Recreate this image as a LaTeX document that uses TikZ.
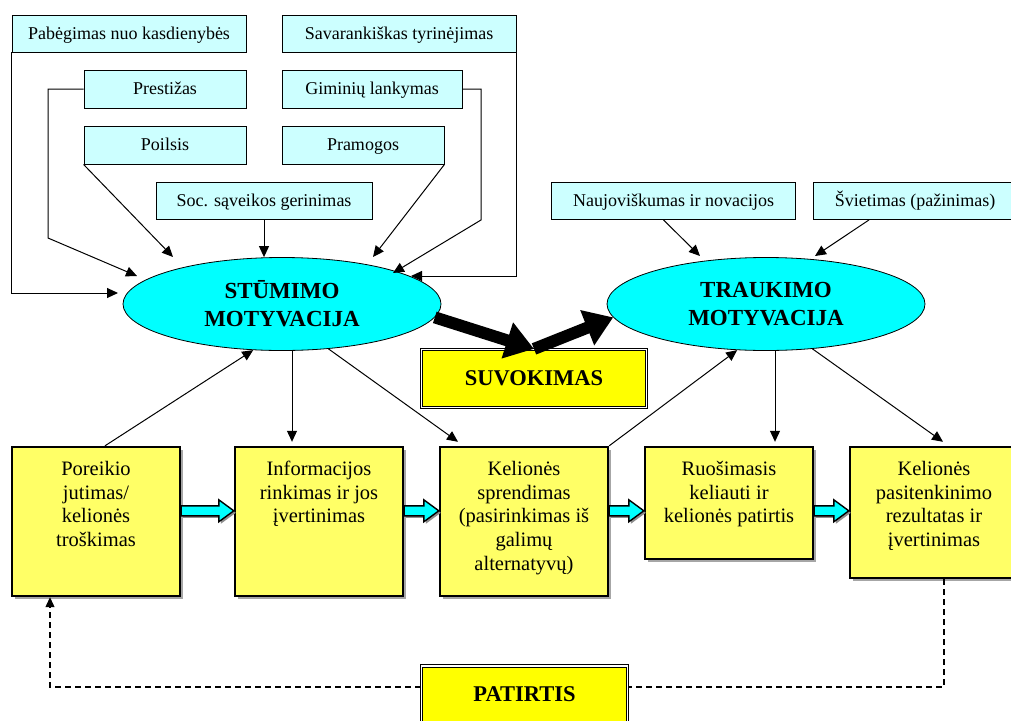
\documentclass[tikz,border=0pt]{standalone}
\usepackage{fontspec}
\setmainfont{Liberation Serif}
\usetikzlibrary{arrows.meta,shapes.geometric,calc,shadows}
\definecolor{lcyan}{HTML}{CCFFFF}
\definecolor{ecyan}{HTML}{00FFFF}
\definecolor{lyel}{HTML}{FFFF66}
\definecolor{yel}{HTML}{FFFF00}
\newcommand\stext[3]{\begin{minipage}[c][#2][t]{#1}\centering\vspace*{12pt}\strut#3\end{minipage}}
\newcommand\cyanarr[2]{%
  \draw[cyarr, drop shadow={shadow xshift=2pt, shadow yshift=-2pt, fill=black!45, opacity=1}] ([shift={(0,-5)}]#1) -- ([shift={(-15,-5)}]#2) -- ([shift={(-15,-11)}]#2) -- (#2)
   -- ([shift={(-15,11)}]#2) -- ([shift={(-15,5)}]#2) -- ([shift={(0,5)}]#1) -- cycle;}
\begin{document}
\begin{tikzpicture}[x=1pt,y=-1pt,
  topbox/.style={draw, line width=0.9pt, fill=lcyan, inner sep=0pt, text height=14pt, text depth=2.4pt, font=\fontsize{18}{20}\selectfont},
  ell/.style={ellipse, draw, line width=0.8pt, fill=ecyan, minimum width=318pt, minimum height=93pt, inner sep=0pt, align=center, font=\bfseries\fontsize{23}{28}\selectfont},
  stepbox/.style={draw, line width=2.4pt, fill=lyel, inner sep=0pt, font=\fontsize{20.5}{23.7}\selectfont, drop shadow={shadow xshift=2.5pt, shadow yshift=-2.5pt, fill=black!35, opacity=1}},
  keybox/.style={draw, line width=1.2pt, double=white, double distance=1.4pt, fill=yel, font=\bfseries\fontsize{22.5}{26}\selectfont, inner sep=0pt},
  arr/.style={line width=1pt, -{Triangle[length=11pt,width=10pt]}},
  bigarr/.style={line width=12pt, -{Triangle[length=28pt,width=36pt]}},
  cyarr/.style={draw, line width=1.4pt, fill=ecyan, line join=miter},
  fbline/.style={line width=1.1pt, dash pattern=on 6pt off 4pt}
]
\fill[white] (0,0) rectangle (1011,720);
\useasboundingbox (0,0) rectangle (1011,720);

% top boxes
\node[topbox, minimum width=234pt, minimum height=37pt] (pab) at (129,33.5) {Pabėgimas nuo kasdienybės};
\node[topbox, minimum width=234pt, minimum height=37pt] (sav) at (399,33.5) {Savarankiškas tyrinėjimas};
\node[topbox, minimum width=162pt, minimum height=38pt] (pre) at (165,89) {Prestižas};
\node[topbox, minimum width=180pt, minimum height=38pt] (gim) at (372,89) {Giminių lankymas};
\node[topbox, minimum width=162pt, minimum height=38pt] (poi) at (165,145) {Poilsis};
\node[topbox, minimum width=162pt, minimum height=38pt] (pra) at (363,145) {Pramogos};
\node[topbox, minimum width=216pt, minimum height=37pt] (soc) at (264,200.5) {Soc. sąveikos gerinimas};
\node[topbox, minimum width=244pt, minimum height=37pt] (nau) at (673.5,201) {Naujoviškumas ir novacijos};
\node[topbox, minimum width=204pt, minimum height=37pt] (svi) at (915,201) {Švietimas (pažinimas)};

% ellipses
\node[ell] (stu) at (282,304) {STŪMIMO\\MOTYVACIJA};
\node[ell] (tra) at (766,304) {TRAUKIMO\\MOTYVACIJA};

% key boxes
\node[keybox, minimum width=225pt, minimum height=58pt] (suv) at (534,378.5) {SUVOKIMAS};
\node[keybox, minimum width=206pt, minimum height=58pt] (pat) at (524.5,695) {\raisebox{2pt}{PATIRTIS}};

% step boxes
\node[stepbox] (b1) at (96,521.5) {\stext{168pt}{149pt}{Poreikio\\ jutimas/\\ kelionės\\ troškimas}};
\node[stepbox] (b2) at (319,521.5) {\stext{168pt}{149pt}{Informacijos\\ rinkimas ir jos\\ įvertinimas}};
\node[stepbox] (b3) at (524,521.5) {\stext{168pt}{149pt}{Kelionės\\ sprendimas\\ (pasirinkimas iš\\ galimų\\ alternatyvų)}};
\node[stepbox] (b4) at (729,503) {\stext{168pt}{112pt}{Ruošimasis\\ keliauti ir\\ kelionės patirtis}};
\node[stepbox] (b5) at (934,512.5) {\stext{168pt}{131pt}{Kelionės\\ pasitenkinimo\\ rezultatas ir\\ įvertinimas}};

% top arrows
\coordinate (t1) at (118,293);
\coordinate (c2) at (48,238);
\coordinate (t2) at (137,276);
\coordinate (t3) at (173,257);
\coordinate (t5) at (373,257);
\coordinate (c6) at (481,220);
\coordinate (t6) at (393,273);
\coordinate (t7) at (411,276);
\coordinate (t8) at (700,256);
\coordinate (t9) at (815,256);
\draw[arr] (pab.south west) |- (t1);
\draw[arr] (pre.west) -| (c2) -- (t2);
\draw[arr] (poi.south west) -- (t3);
\draw[arr] (soc.south) -- (soc.south |- stu.north);
\draw[arr] (pra.south east) -- (t5);
\draw[arr] (gim.east) -| (c6) -- (t6);
\draw[arr] (sav.south east) |- (t7);
\draw[arr] ([shift={(-10,0)}]nau.south) -- (t8);
\draw[arr] ([shift={(-46,0)}]svi.south) -- (t9);

% big arrows
\draw[bigarr] (stu.-5) -- (suv.north);
\draw[bigarr] (suv.north) -- (tra.185);

% ellipse <-> boxes
\coordinate (b2in) at ([shift={(-27,-4)}]b2.north);
\coordinate (b4in) at ([shift={(46,-4)}]b4.north);
\draw[arr] ([shift={(9,0)}]b1.north) -- (stu.238);
\draw[arr] (b2in |- stu.south) -- (b2in);
\draw[arr] (stu.-44) -- ([shift={(-66,-4)}]b3.north);
\draw[arr] (b3.north east) -- (tra.238);
\draw[arr] (b4in |- tra.south) -- (b4in);
\draw[arr] (tra.-44) -- ([shift={(9,-4)}]b5.north);

% cyan block arrows
\coordinate (a1s) at ([shift={(0,65)}]b1.north east);
\coordinate (a1e) at ([shift={(0,65)}]b2.north west);
\coordinate (a2s) at ([shift={(0,65)}]b2.north east);
\coordinate (a2e) at ([shift={(0,65)}]b3.north west);
\coordinate (a3s) at ([shift={(0,65)}]b3.north east);
\coordinate (a3e) at ([shift={(0,65)}]b4.north west);
\coordinate (a4s) at ([shift={(0,65)}]b4.north east);
\coordinate (a4e) at ([shift={(0,65)}]b5.north west);
\cyanarr{a1s}{a1e}
\cyanarr{a2s}{a2e}
\cyanarr{a3s}{a3e}
\cyanarr{a4s}{a4e}

% feedback
\coordinate (pe) at ([shift={(0,-8)}]pat.east);
\coordinate (pw) at ([shift={(0,-8)}]pat.west);
\draw[fbline] ([shift={(10,0)}]b5.south) |- (pe);
\draw[fbline, -{Triangle[length=10pt,width=9pt]}] (pw) -| ([shift={(-46,0)}]b1.south);
\end{tikzpicture}
\end{document}
